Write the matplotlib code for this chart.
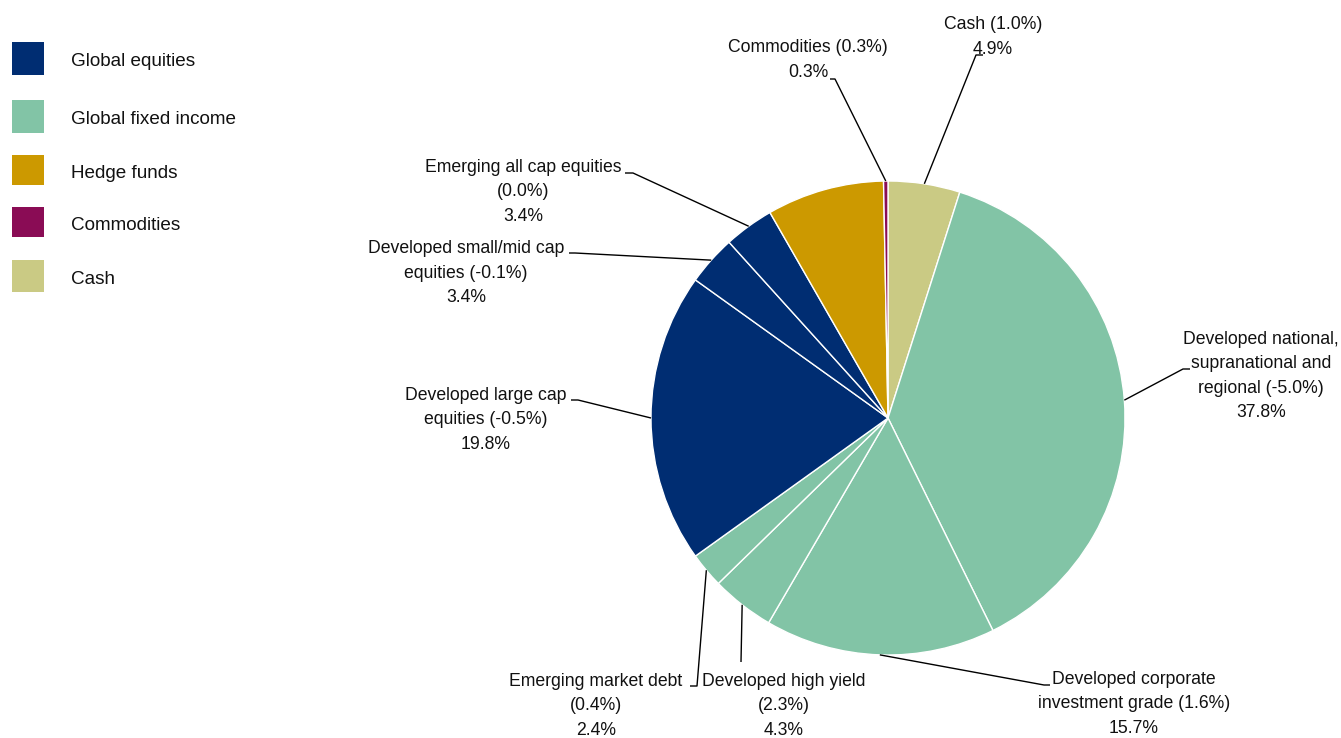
import matplotlib
matplotlib.use("Agg")
import matplotlib.pyplot as plt
from matplotlib.patches import Rectangle
import numpy as np

plt.rcParams['font.family'] = ['Liberation Sans', 'DejaVu Sans']

# Strategic allocation, clockwise from 12 o'clock
holdings = [
    "Cash",
    "Developed national,\nsupranational and\nregional",
    "Developed corporate\ninvestment grade",
    "Developed high yield\n",
    "Emerging market debt\n",
    "Developed large cap\nequities",
    "Developed small/mid cap\nequities",
    "Emerging all cap equities\n",
    "Hedge funds",
    "Commodities",
]
weights = [4.9, 37.8, 15.7, 4.3, 2.4, 19.8, 3.4, 3.4, 8.0, 0.3]
changes = [1.0, -5.0, 1.6, 2.3, 0.4, -0.5, -0.1, 0.0, None, 0.3]
asset_class = [
    "Cash",
    "Global fixed income",
    "Global fixed income",
    "Global fixed income",
    "Global fixed income",
    "Global equities",
    "Global equities",
    "Global equities",
    "Hedge funds",
    "Commodities",
]

classes = ["Global equities", "Global fixed income", "Hedge funds", "Commodities", "Cash"]
class_colors = ["#002D72", "#82C4A6", "#CC9900", "#8A0C55", "#CACA84"]
color_of = dict(zip(classes, class_colors))

W, H = 1341, 738
fig = plt.figure(figsize=(W / 100, H / 100), dpi=100)
ax = fig.add_axes([0, 0, 1, 1])


def fy(y):
    # pixel rows are counted from the top
    return H - y


center = (888, fy(418))
radius = 237
wedges, _ = ax.pie(
    weights,
    colors=[color_of[c] for c in asset_class],
    startangle=90,
    counterclock=False,
    center=center,
    radius=radius,
    wedgeprops=dict(edgecolor="white", linewidth=1.0),
)
ax.set_xlim(0, W)
ax.set_ylim(0, H)
ax.set_aspect("equal")
ax.axis("off")

# label block centre, leader elbow, and end of the short horizontal tail
label_layout = [
    ((993, 37), (976, 55), 983),
    ((1261, 376), (1183, 369), 1190),
    ((1134, 704), (1044, 685), 1050),
    ((784, 706), (741, 662), None),
    ((596, 706), (697, 686), 690),
    ((486, 420), (578, 400), 571),
    ((466, 273), (575, 253), 569),
    ((523, 192), (633, 173), 625),
    None,
    ((808, 60), (835, 79), 830),
]

fs = 12.7
for wedge, name, w, chg, lay in zip(wedges, holdings, weights, changes, label_layout):
    if lay is None:
        continue
    (tx, ty), (ex, ey), tail = lay
    sep = "" if name.endswith("\n") else " "
    label = f"{name}{sep}({chg:.1f}%)\n{w:.1f}%"
    mid = np.deg2rad((wedge.theta1 + wedge.theta2) / 2)
    sx = center[0] + radius * np.cos(mid)
    sy = center[1] + radius * np.sin(mid)
    xs = [sx, ex] + ([tail] if tail is not None else [])
    ys = [sy, fy(ey)] + ([fy(ey)] if tail is not None else [])
    ax.plot(xs, ys, color="black", lw=1.0, solid_capstyle="butt")
    ax.text(tx, fy(ty), label, ha="center", va="center", multialignment="center",
            fontsize=fs, linespacing=1.58, color="#111111")

# legend
legend_rows = [(58, 33), (116, 33), (170, 30), (222, 30), (276, 32)]
for cls, col, (yc, h) in zip(classes, class_colors, legend_rows):
    ax.add_patch(Rectangle((12, fy(yc) - h / 2), 32, h, facecolor=col, edgecolor="none"))
    ax.text(71, fy(yc + 3), cls, ha="left", va="center", fontsize=13.6, color="#111111")

fig.savefig("out.png", dpi=100)
